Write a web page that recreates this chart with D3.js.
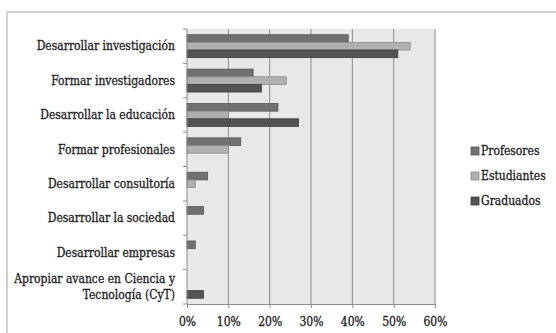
<!DOCTYPE html>
<html>
<head>
<meta charset="utf-8">
<script src="https://cdn.jsdelivr.net/npm/d3@7/dist/d3.min.js"></script>
<style>
  html, body { margin: 0; padding: 0; background: #fff; }
  svg { display: block; }
  text { font-family: "DejaVu Serif Condensed", "DejaVu Serif", serif; font-stretch: condensed; fill: #1e1e1e; stroke: #1e1e1e; stroke-width: 0.3px; }
</style>
</head>
<body>
<svg id="chart" width="556" height="333"></svg>
<script>
// Purposes of research, share of respondents by group
const categories = [
  "Desarrollar investigación",
  "Formar investigadores",
  "Desarrollar la educación",
  "Formar profesionales",
  "Desarrollar consultoría",
  "Desarrollar la sociedad",
  "Desarrollar empresas",
  "Apropiar avance en Ciencia y|Tecnología (CyT)"
];
const seriesNames = ["Profesores", "Estudiantes", "Graduados"];
const profesores  = [39, 16, 22, 13, 5, 4, 2, 0];
const estudiantes = [54, 24, 10, 10, 2, 0, 0, 0];
const graduados   = [51, 18, 27, 0, 0, 0, 0, 4];
const xTicks = [0, 10, 20, 30, 40, 50, 60];

const seriesValues = [profesores, estudiantes, graduados];
const fills   = ["#707070", "#b0b0b0", "#545454"];
const strokes = ["#555555", "#8a8a8a", "#3e3e3e"];

const svg = d3.select("#chart");
const fontSize = 12;

// outer frame
svg.append("path")
  .attr("d", "M7,333 V12 H556")
  .attr("fill", "none")
  .attr("stroke", "#d2d2d2")
  .attr("stroke-width", 2);

const plot = { left: 187, right: 435, top: 29, bottom: 304 };

const x = d3.scaleLinear().domain([0, 60]).range([plot.left, plot.right]);
const y = d3.scaleBand().domain(d3.range(categories.length))
  .range([plot.top, plot.bottom]).paddingInner(0).paddingOuter(0);
const inner = d3.scaleBand().domain(d3.range(seriesNames.length))
  .range([0, y.bandwidth()]).paddingInner(0).paddingOuter(0.75);

// plot background
svg.append("rect")
  .attr("x", plot.left).attr("y", plot.top)
  .attr("width", plot.right - plot.left).attr("height", plot.bottom - plot.top)
  .attr("fill", "#e8e8e8");

// vertical gridlines
svg.append("g").selectAll("line")
  .data(xTicks.slice(1))
  .join("line")
  .attr("x1", d => x(d)).attr("x2", d => x(d))
  .attr("y1", plot.top).attr("y2", plot.bottom)
  .attr("stroke", "#8c8c8c").attr("stroke-width", 1);

// bars
const groups = svg.append("g").selectAll("g")
  .data(categories.map((c, i) => i))
  .join("g")
  .attr("transform", i => `translate(0,${y(i)})`);

groups.selectAll("rect")
  .data(i => seriesValues.map((vals, s) => ({ s, v: vals[i] })).filter(d => d.v > 0))
  .join("rect")
  .attr("x", x(0))
  .attr("y", d => inner(d.s))
  .attr("width", d => x(d.v) - x(0))
  .attr("height", inner.bandwidth())
  .attr("fill", d => fills[d.s])
  .attr("stroke", d => strokes[d.s])
  .attr("stroke-width", 0.8);

// x axis
const xAxis = svg.append("g")
  .attr("transform", `translate(0,${plot.bottom})`)
  .call(d3.axisBottom(x).tickValues(xTicks).tickFormat(d => d + "%").tickSize(4).tickPadding(9));
xAxis.select(".domain").attr("stroke", "#8c8c8c");
xAxis.selectAll(".tick line").attr("stroke", "#8c8c8c");
xAxis.selectAll("text").attr("font-size", fontSize).attr("fill", "#1e1e1e")
  .attr("font-family", null);

// y axis line and category ticks
svg.append("line")
  .attr("x1", plot.left).attr("x2", plot.left)
  .attr("y1", plot.top).attr("y2", plot.bottom)
  .attr("stroke", "#8c8c8c");
svg.append("g").selectAll("line")
  .data(d3.range(categories.length + 1))
  .join("line")
  .attr("x1", plot.left - 4).attr("x2", plot.left)
  .attr("y1", i => plot.top + i * y.step())
  .attr("y2", i => plot.top + i * y.step())
  .attr("stroke", "#8c8c8c");

// category labels
const labels = svg.append("g").selectAll("text")
  .data(categories.map((c, i) => ({ c, i })))
  .join("text")
  .attr("text-anchor", "end")
  .attr("font-size", fontSize)
  .attr("x", 175);
labels.each(function (d) {
  const parts = d.c.split("|");
  const cy = y(d.i) + y.bandwidth() / 2;
  const lh = 16;
  const t = d3.select(this);
  parts.forEach((p, k) => {
    t.append("tspan")
      .attr("x", 175)
      .attr("y", cy + (k - (parts.length - 1) / 2) * lh)
      .attr("dy", "0.35em")
      .text(p);
  });
});

// legend
const legend = svg.append("g").selectAll("g")
  .data(seriesNames.map((n, s) => ({ n, s })))
  .join("g")
  .attr("transform", d => `translate(471,${151 + d.s * 25})`);
legend.append("rect")
  .attr("x", 0).attr("y", -4).attr("width", 8).attr("height", 8)
  .attr("fill", d => fills[d.s]).attr("stroke", d => strokes[d.s]).attr("stroke-width", 0.8);
legend.append("text")
  .attr("x", 10).attr("y", 0).attr("dy", "0.35em")
  .attr("font-size", fontSize)
  .text(d => d.n);
</script>
</body>
</html>
